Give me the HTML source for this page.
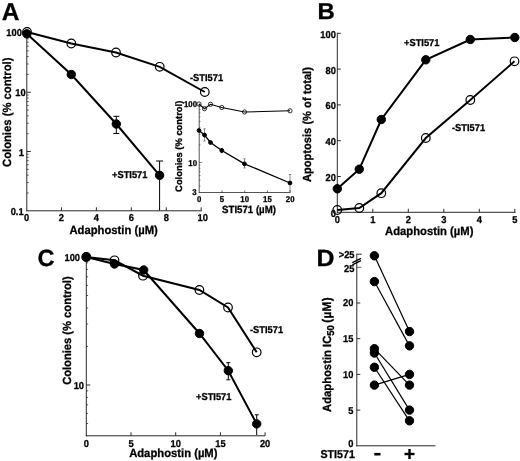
<!DOCTYPE html>
<html><head><meta charset="utf-8"><title>Figure</title>
<style>text{text-rendering:geometricPrecision}html,body{margin:0;padding:0;background:#fff}svg{display:block}</style></head>
<body><svg width="520" height="461" viewBox="0 0 520 461" font-family="Liberation Sans, Arial, Helvetica, sans-serif" font-weight="bold" fill="#000" stroke="#000">
<g stroke="#000">
<text stroke="#000" stroke-width="0.3" transform="translate(1.7,20) scale(1,1)" font-size="24.5" text-anchor="start" >A</text>
<line x1="26.80" y1="33.00" x2="26.80" y2="211.30" stroke-width="1" stroke="#2a2a2a" />
<line x1="26.30" y1="210.80" x2="201.80" y2="210.80" stroke-width="1" stroke="#2a2a2a" />
<line x1="26.80" y1="92.27" x2="30.80" y2="92.27" stroke-width="1" stroke="#2a2a2a" />
<line x1="26.80" y1="74.43" x2="28.60" y2="74.43" stroke-width="0.8" stroke="#2a2a2a" />
<line x1="26.80" y1="63.99" x2="28.60" y2="63.99" stroke-width="0.8" stroke="#2a2a2a" />
<line x1="26.80" y1="56.58" x2="28.60" y2="56.58" stroke-width="0.8" stroke="#2a2a2a" />
<line x1="26.80" y1="50.84" x2="28.60" y2="50.84" stroke-width="0.8" stroke="#2a2a2a" />
<line x1="26.80" y1="46.15" x2="28.60" y2="46.15" stroke-width="0.8" stroke="#2a2a2a" />
<line x1="26.80" y1="42.18" x2="28.60" y2="42.18" stroke-width="0.8" stroke="#2a2a2a" />
<line x1="26.80" y1="38.74" x2="28.60" y2="38.74" stroke-width="0.8" stroke="#2a2a2a" />
<line x1="26.80" y1="35.71" x2="28.60" y2="35.71" stroke-width="0.8" stroke="#2a2a2a" />
<line x1="26.80" y1="151.53" x2="30.80" y2="151.53" stroke-width="1" stroke="#2a2a2a" />
<line x1="26.80" y1="133.69" x2="28.60" y2="133.69" stroke-width="0.8" stroke="#2a2a2a" />
<line x1="26.80" y1="123.26" x2="28.60" y2="123.26" stroke-width="0.8" stroke="#2a2a2a" />
<line x1="26.80" y1="115.85" x2="28.60" y2="115.85" stroke-width="0.8" stroke="#2a2a2a" />
<line x1="26.80" y1="110.11" x2="28.60" y2="110.11" stroke-width="0.8" stroke="#2a2a2a" />
<line x1="26.80" y1="105.41" x2="28.60" y2="105.41" stroke-width="0.8" stroke="#2a2a2a" />
<line x1="26.80" y1="101.45" x2="28.60" y2="101.45" stroke-width="0.8" stroke="#2a2a2a" />
<line x1="26.80" y1="98.01" x2="28.60" y2="98.01" stroke-width="0.8" stroke="#2a2a2a" />
<line x1="26.80" y1="94.98" x2="28.60" y2="94.98" stroke-width="0.8" stroke="#2a2a2a" />
<line x1="26.80" y1="192.96" x2="28.60" y2="192.96" stroke-width="0.8" stroke="#2a2a2a" />
<line x1="26.80" y1="182.52" x2="28.60" y2="182.52" stroke-width="0.8" stroke="#2a2a2a" />
<line x1="26.80" y1="175.12" x2="28.60" y2="175.12" stroke-width="0.8" stroke="#2a2a2a" />
<line x1="26.80" y1="169.37" x2="28.60" y2="169.37" stroke-width="0.8" stroke="#2a2a2a" />
<line x1="26.80" y1="164.68" x2="28.60" y2="164.68" stroke-width="0.8" stroke="#2a2a2a" />
<line x1="26.80" y1="160.71" x2="28.60" y2="160.71" stroke-width="0.8" stroke="#2a2a2a" />
<line x1="26.80" y1="157.28" x2="28.60" y2="157.28" stroke-width="0.8" stroke="#2a2a2a" />
<line x1="26.80" y1="154.25" x2="28.60" y2="154.25" stroke-width="0.8" stroke="#2a2a2a" />
<line x1="61.44" y1="210.80" x2="61.44" y2="207.30" stroke-width="1" stroke="#2a2a2a" />
<text stroke="#000" stroke-width="0.3" transform="translate(61.44,220.7) scale(0.93,1)" font-size="10" text-anchor="middle" >2</text>
<line x1="96.38" y1="210.80" x2="96.38" y2="207.30" stroke-width="1" stroke="#2a2a2a" />
<text stroke="#000" stroke-width="0.3" transform="translate(96.38,220.7) scale(0.93,1)" font-size="10" text-anchor="middle" >4</text>
<line x1="131.32" y1="210.80" x2="131.32" y2="207.30" stroke-width="1" stroke="#2a2a2a" />
<text stroke="#000" stroke-width="0.3" transform="translate(131.32,220.7) scale(0.93,1)" font-size="10" text-anchor="middle" >6</text>
<line x1="166.26" y1="210.80" x2="166.26" y2="207.30" stroke-width="1" stroke="#2a2a2a" />
<text stroke="#000" stroke-width="0.3" transform="translate(166.26,220.7) scale(0.93,1)" font-size="10" text-anchor="middle" >8</text>
<line x1="201.20" y1="210.80" x2="201.20" y2="207.30" stroke-width="1" stroke="#2a2a2a" />
<text stroke="#000" stroke-width="0.3" transform="translate(202.7,220.7) scale(0.93,1)" font-size="10" text-anchor="middle" >10</text>
<text stroke="#000" stroke-width="0.3" transform="translate(26.5,220.7) scale(0.93,1)" font-size="10" text-anchor="middle" >0</text>
<text stroke="#000" stroke-width="0.3" transform="translate(21.8,36.3) scale(0.93,1)" font-size="10" text-anchor="end" >100</text>
<text stroke="#000" stroke-width="0.3" transform="translate(25.6,96.3) scale(0.93,1)" font-size="10" text-anchor="end" >10</text>
<text stroke="#000" stroke-width="0.3" transform="translate(24,156) scale(0.93,1)" font-size="10" text-anchor="end" >1</text>
<text stroke="#000" stroke-width="0.3" transform="translate(23.6,215.2) scale(0.93,1)" font-size="10" text-anchor="end" >0.1</text>
<text stroke="#000" stroke-width="0.3" transform="translate(11,112.3) rotate(-90) scale(0.95,1)" font-size="11.85" text-anchor="middle">Colonies (% control)</text>
<text stroke="#000" stroke-width="0.3" transform="translate(113.6,234) scale(0.95,1)" font-size="11.85" text-anchor="middle" >Adaphostin (µM)</text>
<polyline fill="none" stroke-width="2" points="27.00,32.00 71.30,43.50 116.00,52.50 159.70,66.80 204.80,92.00"/>
<circle cx="27.00" cy="32.00" r="4.3" fill="none" stroke-width="1.2"/>
<circle cx="71.30" cy="43.50" r="4.3" fill="none" stroke-width="1.2"/>
<circle cx="116.00" cy="52.50" r="4.3" fill="none" stroke-width="1.2"/>
<circle cx="159.70" cy="66.80" r="4.3" fill="none" stroke-width="1.2"/>
<circle cx="204.80" cy="92.00" r="4.3" fill="none" stroke-width="1.2"/>
<line x1="116.30" y1="116.30" x2="116.30" y2="133.50" stroke-width="1" />
<line x1="113.30" y1="116.30" x2="119.30" y2="116.30" stroke-width="1" />
<line x1="113.30" y1="133.50" x2="119.30" y2="133.50" stroke-width="1" />
<line x1="159.60" y1="161.00" x2="159.60" y2="210.50" stroke-width="1" />
<line x1="156.10" y1="161.00" x2="163.10" y2="161.00" stroke-width="1" />
<polyline fill="none" stroke-width="2" points="26.80,33.80 71.30,74.50 116.30,124.00 159.60,175.30"/>
<circle cx="26.80" cy="33.80" r="4.2" fill="#000" stroke-width="1"/>
<circle cx="71.30" cy="74.50" r="4.2" fill="#000" stroke-width="1"/>
<circle cx="116.30" cy="124.00" r="4.2" fill="#000" stroke-width="1"/>
<circle cx="159.60" cy="175.30" r="4.2" fill="#000" stroke-width="1"/>
<text stroke="#000" stroke-width="0.3" transform="translate(190,81) scale(0.93,1)" font-size="10" text-anchor="start" >-STI571</text>
<text stroke="#000" stroke-width="0.3" transform="translate(112,177.8) scale(0.93,1)" font-size="10" text-anchor="start" >+STI571</text>
<line x1="199.20" y1="103.80" x2="199.20" y2="192.90" stroke-width="0.8" stroke="#2a2a2a" />
<line x1="198.80" y1="192.50" x2="290.50" y2="192.50" stroke-width="0.8" stroke="#2a2a2a" />
<line x1="199.20" y1="106.49" x2="200.50" y2="106.49" stroke-width="0.6" stroke="#2a2a2a" />
<line x1="199.20" y1="109.49" x2="200.50" y2="109.49" stroke-width="0.6" stroke="#2a2a2a" />
<line x1="199.20" y1="112.90" x2="200.50" y2="112.90" stroke-width="0.6" stroke="#2a2a2a" />
<line x1="199.20" y1="116.83" x2="200.50" y2="116.83" stroke-width="0.6" stroke="#2a2a2a" />
<line x1="199.20" y1="121.49" x2="200.50" y2="121.49" stroke-width="0.6" stroke="#2a2a2a" />
<line x1="199.20" y1="127.18" x2="200.50" y2="127.18" stroke-width="0.6" stroke="#2a2a2a" />
<line x1="199.20" y1="134.52" x2="200.50" y2="134.52" stroke-width="0.6" stroke="#2a2a2a" />
<line x1="199.20" y1="144.86" x2="200.50" y2="144.86" stroke-width="0.6" stroke="#2a2a2a" />
<line x1="199.20" y1="162.55" x2="202.20" y2="162.55" stroke-width="0.6" stroke="#2a2a2a" />
<line x1="199.20" y1="165.24" x2="200.50" y2="165.24" stroke-width="0.6" stroke="#2a2a2a" />
<line x1="199.20" y1="168.24" x2="200.50" y2="168.24" stroke-width="0.6" stroke="#2a2a2a" />
<line x1="199.20" y1="171.65" x2="200.50" y2="171.65" stroke-width="0.6" stroke="#2a2a2a" />
<line x1="199.20" y1="175.58" x2="200.50" y2="175.58" stroke-width="0.6" stroke="#2a2a2a" />
<line x1="199.20" y1="180.24" x2="200.50" y2="180.24" stroke-width="0.6" stroke="#2a2a2a" />
<line x1="199.20" y1="185.93" x2="200.50" y2="185.93" stroke-width="0.6" stroke="#2a2a2a" />
<text stroke="#000" stroke-width="0.3" transform="translate(199.2,202) scale(0.93,1)" font-size="8.4" text-anchor="middle" >0</text>
<line x1="221.95" y1="192.50" x2="221.95" y2="190.50" stroke-width="0.7" stroke="#2a2a2a" />
<text stroke="#000" stroke-width="0.3" transform="translate(221.95,202) scale(0.93,1)" font-size="8.4" text-anchor="middle" >5</text>
<line x1="244.70" y1="192.50" x2="244.70" y2="190.50" stroke-width="0.7" stroke="#2a2a2a" />
<text stroke="#000" stroke-width="0.3" transform="translate(244.7,202) scale(0.93,1)" font-size="8.4" text-anchor="middle" >10</text>
<line x1="267.45" y1="192.50" x2="267.45" y2="190.50" stroke-width="0.7" stroke="#2a2a2a" />
<text stroke="#000" stroke-width="0.3" transform="translate(267.45,202) scale(0.93,1)" font-size="8.4" text-anchor="middle" >15</text>
<line x1="290.20" y1="192.50" x2="290.20" y2="190.50" stroke-width="0.7" stroke="#2a2a2a" />
<text stroke="#000" stroke-width="0.3" transform="translate(290.2,202) scale(0.93,1)" font-size="8.4" text-anchor="middle" >20</text>
<text stroke="#000" stroke-width="0.3" transform="translate(197,106.5) scale(0.93,1)" font-size="8.4" text-anchor="end" >100</text>
<text stroke="#000" stroke-width="0.3" transform="translate(197,165.6) scale(0.93,1)" font-size="8.4" text-anchor="end" >10</text>
<text stroke="#000" stroke-width="0.3" transform="translate(196.5,195.3) scale(0.93,1)" font-size="8.4" text-anchor="end" >3</text>
<text stroke="#000" stroke-width="0.3" transform="translate(181.6,146.3) rotate(-90) scale(1.0,1)" font-size="9.4" text-anchor="middle">Colonies (% control)</text>
<text stroke="#000" stroke-width="0.3" transform="translate(249,213.3) scale(0.93,1)" font-size="10.4" text-anchor="middle" >STI571 (µM)</text>
<polyline fill="none" stroke-width="1.1" points="199.00,104.00 204.50,108.70 210.50,104.30 221.80,107.50 244.50,112.00 290.00,110.80"/>
<circle cx="199.00" cy="104.00" r="2.1" fill="none" stroke-width="0.8"/>
<circle cx="204.50" cy="108.70" r="2.1" fill="none" stroke-width="0.8"/>
<circle cx="210.50" cy="104.30" r="2.1" fill="none" stroke-width="0.8"/>
<circle cx="221.80" cy="107.50" r="2.1" fill="none" stroke-width="0.8"/>
<circle cx="244.50" cy="112.00" r="2.1" fill="none" stroke-width="0.8"/>
<circle cx="290.00" cy="110.80" r="2.1" fill="none" stroke-width="0.8"/>
<g stroke="#444">
<line x1="204.50" y1="128.80" x2="204.50" y2="141.00" stroke-width="0.6" />
<line x1="203.30" y1="128.80" x2="205.70" y2="128.80" stroke-width="0.6" />
<line x1="203.30" y1="141.00" x2="205.70" y2="141.00" stroke-width="0.6" />
<line x1="221.80" y1="148.30" x2="221.80" y2="152.70" stroke-width="0.6" />
<line x1="220.60" y1="148.30" x2="223.00" y2="148.30" stroke-width="0.6" />
<line x1="220.60" y1="152.70" x2="223.00" y2="152.70" stroke-width="0.6" />
<line x1="244.50" y1="158.80" x2="244.50" y2="168.00" stroke-width="0.6" />
<line x1="243.30" y1="158.80" x2="245.70" y2="158.80" stroke-width="0.6" />
<line x1="243.30" y1="168.00" x2="245.70" y2="168.00" stroke-width="0.6" />
<line x1="290.00" y1="174.50" x2="290.00" y2="191.00" stroke-width="0.6" />
<line x1="288.80" y1="174.50" x2="291.20" y2="174.50" stroke-width="0.6" />
<line x1="288.80" y1="191.00" x2="291.20" y2="191.00" stroke-width="0.6" />
</g>
<polyline fill="none" stroke-width="1.3" points="199.00,130.50 204.50,135.00 210.50,142.50 221.80,150.50 244.50,163.80 290.00,183.00"/>
<circle cx="199.00" cy="130.50" r="1.9" fill="#000" stroke-width="1"/>
<circle cx="204.50" cy="135.00" r="1.9" fill="#000" stroke-width="1"/>
<circle cx="210.50" cy="142.50" r="1.9" fill="#000" stroke-width="1"/>
<circle cx="221.80" cy="150.50" r="1.9" fill="#000" stroke-width="1"/>
<circle cx="244.50" cy="163.80" r="1.9" fill="#000" stroke-width="1"/>
<circle cx="290.00" cy="183.00" r="1.9" fill="#000" stroke-width="1"/>
<text stroke="#000" stroke-width="0.3" transform="translate(317.5,19) scale(1.04,1)" font-size="23" text-anchor="start" >B</text>
<line x1="337.30" y1="32.80" x2="337.30" y2="212.80" stroke-width="1" stroke="#2a2a2a" />
<line x1="336.80" y1="212.30" x2="515.50" y2="212.30" stroke-width="1" stroke="#2a2a2a" />
<text stroke="#000" stroke-width="0.3" transform="translate(335.8,216.70000000000002) scale(0.93,1)" font-size="10" text-anchor="end" >0</text>
<line x1="337.30" y1="176.50" x2="340.80" y2="176.50" stroke-width="1" stroke="#2a2a2a" />
<text stroke="#000" stroke-width="0.3" transform="translate(335.8,180.9) scale(0.93,1)" font-size="10" text-anchor="end" >20</text>
<line x1="337.30" y1="140.70" x2="340.80" y2="140.70" stroke-width="1" stroke="#2a2a2a" />
<text stroke="#000" stroke-width="0.3" transform="translate(335.8,145.10000000000002) scale(0.93,1)" font-size="10" text-anchor="end" >40</text>
<line x1="337.30" y1="104.90" x2="340.80" y2="104.90" stroke-width="1" stroke="#2a2a2a" />
<text stroke="#000" stroke-width="0.3" transform="translate(335.8,109.30000000000001) scale(0.93,1)" font-size="10" text-anchor="end" >60</text>
<line x1="337.30" y1="69.10" x2="340.80" y2="69.10" stroke-width="1" stroke="#2a2a2a" />
<text stroke="#000" stroke-width="0.3" transform="translate(335.8,73.50000000000003) scale(0.93,1)" font-size="10" text-anchor="end" >80</text>
<line x1="337.30" y1="33.30" x2="340.80" y2="33.30" stroke-width="1" stroke="#2a2a2a" />
<text stroke="#000" stroke-width="0.3" transform="translate(335.8,37.70000000000001) scale(0.93,1)" font-size="10" text-anchor="end" >100</text>
<text stroke="#000" stroke-width="0.3" transform="translate(337.3,222.5) scale(0.93,1)" font-size="10" text-anchor="middle" >0</text>
<line x1="372.80" y1="212.30" x2="372.80" y2="208.80" stroke-width="1" stroke="#2a2a2a" />
<text stroke="#000" stroke-width="0.3" transform="translate(372.8,222.5) scale(0.93,1)" font-size="10" text-anchor="middle" >1</text>
<line x1="408.30" y1="212.30" x2="408.30" y2="208.80" stroke-width="1" stroke="#2a2a2a" />
<text stroke="#000" stroke-width="0.3" transform="translate(408.3,222.5) scale(0.93,1)" font-size="10" text-anchor="middle" >2</text>
<line x1="443.80" y1="212.30" x2="443.80" y2="208.80" stroke-width="1" stroke="#2a2a2a" />
<text stroke="#000" stroke-width="0.3" transform="translate(443.8,222.5) scale(0.93,1)" font-size="10" text-anchor="middle" >3</text>
<line x1="479.30" y1="212.30" x2="479.30" y2="208.80" stroke-width="1" stroke="#2a2a2a" />
<text stroke="#000" stroke-width="0.3" transform="translate(479.3,222.5) scale(0.93,1)" font-size="10" text-anchor="middle" >4</text>
<line x1="514.80" y1="212.30" x2="514.80" y2="208.80" stroke-width="1" stroke="#2a2a2a" />
<text stroke="#000" stroke-width="0.3" transform="translate(514.8,222.5) scale(0.93,1)" font-size="10" text-anchor="middle" >5</text>
<text stroke="#000" stroke-width="0.3" transform="translate(311.4,124.6) rotate(-90) scale(0.95,1)" font-size="11.73" text-anchor="middle">Apoptosis (% of total)</text>
<text stroke="#000" stroke-width="0.3" transform="translate(429.2,235.3) scale(0.95,1)" font-size="11.85" text-anchor="middle" >Adaphostin (µM)</text>
<polyline fill="none" stroke-width="2" points="337.30,210.00 359.30,208.00 381.30,193.20 425.80,138.00 470.30,100.00 514.50,61.30"/>
<circle cx="337.30" cy="210.00" r="4.3" fill="none" stroke-width="1.2"/>
<circle cx="359.30" cy="208.00" r="4.3" fill="none" stroke-width="1.2"/>
<circle cx="381.30" cy="193.20" r="4.3" fill="none" stroke-width="1.2"/>
<circle cx="425.80" cy="138.00" r="4.3" fill="none" stroke-width="1.2"/>
<circle cx="470.30" cy="100.00" r="4.3" fill="none" stroke-width="1.2"/>
<circle cx="514.50" cy="61.30" r="4.3" fill="none" stroke-width="1.2"/>
<polyline fill="none" stroke-width="2" points="337.30,188.80 359.30,169.20 381.30,119.50 425.80,59.80 470.30,39.50 514.80,37.50"/>
<circle cx="337.30" cy="188.80" r="4.2" fill="#000" stroke-width="1"/>
<circle cx="359.30" cy="169.20" r="4.2" fill="#000" stroke-width="1"/>
<circle cx="381.30" cy="119.50" r="4.2" fill="#000" stroke-width="1"/>
<circle cx="425.80" cy="59.80" r="4.2" fill="#000" stroke-width="1"/>
<circle cx="470.30" cy="39.50" r="4.2" fill="#000" stroke-width="1"/>
<circle cx="514.80" cy="37.50" r="4.2" fill="#000" stroke-width="1"/>
<text stroke="#000" stroke-width="0.3" transform="translate(404,46.3) scale(0.93,1)" font-size="10" text-anchor="start" >+STI571</text>
<text stroke="#000" stroke-width="0.3" transform="translate(452,130.8) scale(0.93,1)" font-size="10" text-anchor="start" >-STI571</text>
<text stroke="#000" stroke-width="0.3" transform="translate(37.5,266) scale(1,1)" font-size="23.5" text-anchor="start" >C</text>
<line x1="86.30" y1="257.00" x2="86.30" y2="436.30" stroke-width="1" stroke="#2a2a2a" />
<line x1="85.80" y1="435.80" x2="265.00" y2="435.80" stroke-width="1" stroke="#2a2a2a" />
<line x1="86.30" y1="262.86" x2="88.10" y2="262.86" stroke-width="0.8" stroke="#2a2a2a" />
<line x1="86.30" y1="269.40" x2="88.10" y2="269.40" stroke-width="0.8" stroke="#2a2a2a" />
<line x1="86.30" y1="276.83" x2="88.10" y2="276.83" stroke-width="0.8" stroke="#2a2a2a" />
<line x1="86.30" y1="285.40" x2="88.10" y2="285.40" stroke-width="0.8" stroke="#2a2a2a" />
<line x1="86.30" y1="295.53" x2="88.10" y2="295.53" stroke-width="0.8" stroke="#2a2a2a" />
<line x1="86.30" y1="307.94" x2="88.10" y2="307.94" stroke-width="0.8" stroke="#2a2a2a" />
<line x1="86.30" y1="323.93" x2="88.10" y2="323.93" stroke-width="0.8" stroke="#2a2a2a" />
<line x1="86.30" y1="346.47" x2="88.10" y2="346.47" stroke-width="0.8" stroke="#2a2a2a" />
<line x1="86.30" y1="385.00" x2="90.30" y2="385.00" stroke-width="1" stroke="#2a2a2a" />
<line x1="86.30" y1="390.86" x2="88.10" y2="390.86" stroke-width="0.8" stroke="#2a2a2a" />
<line x1="86.30" y1="397.40" x2="88.10" y2="397.40" stroke-width="0.8" stroke="#2a2a2a" />
<line x1="86.30" y1="404.83" x2="88.10" y2="404.83" stroke-width="0.8" stroke="#2a2a2a" />
<line x1="86.30" y1="413.40" x2="88.10" y2="413.40" stroke-width="0.8" stroke="#2a2a2a" />
<line x1="86.30" y1="423.53" x2="88.10" y2="423.53" stroke-width="0.8" stroke="#2a2a2a" />
<text stroke="#000" stroke-width="0.3" transform="translate(86.3,447) scale(0.93,1)" font-size="10" text-anchor="middle" >0</text>
<line x1="131.00" y1="435.80" x2="131.00" y2="432.30" stroke-width="1" stroke="#2a2a2a" />
<text stroke="#000" stroke-width="0.3" transform="translate(131.0,447) scale(0.93,1)" font-size="10" text-anchor="middle" >5</text>
<line x1="175.70" y1="435.80" x2="175.70" y2="432.30" stroke-width="1" stroke="#2a2a2a" />
<text stroke="#000" stroke-width="0.3" transform="translate(175.7,447) scale(0.93,1)" font-size="10" text-anchor="middle" >10</text>
<line x1="220.40" y1="435.80" x2="220.40" y2="432.30" stroke-width="1" stroke="#2a2a2a" />
<text stroke="#000" stroke-width="0.3" transform="translate(220.39999999999998,447) scale(0.93,1)" font-size="10" text-anchor="middle" >15</text>
<line x1="265.10" y1="435.80" x2="265.10" y2="432.30" stroke-width="1" stroke="#2a2a2a" />
<text stroke="#000" stroke-width="0.3" transform="translate(265.09999999999997,447) scale(0.93,1)" font-size="10" text-anchor="middle" >20</text>
<text stroke="#000" stroke-width="0.3" transform="translate(80,260.8) scale(0.93,1)" font-size="10" text-anchor="end" >100</text>
<text stroke="#000" stroke-width="0.3" transform="translate(84,388.7) scale(0.93,1)" font-size="10" text-anchor="end" >10</text>
<text stroke="#000" stroke-width="0.3" transform="translate(70.9,330.6) rotate(-90) scale(0.95,1)" font-size="11.75" text-anchor="middle">Colonies (% control)</text>
<text stroke="#000" stroke-width="0.3" transform="translate(173.3,457) scale(0.95,1)" font-size="11.85" text-anchor="middle" >Adaphostin (µM)</text>
<polyline fill="none" stroke-width="2" points="86.30,257.00 114.50,260.30 143.00,275.70 199.40,290.00 228.00,307.50 256.70,352.30"/>
<circle cx="86.30" cy="257.00" r="4.3" fill="none" stroke-width="1.2"/>
<circle cx="114.50" cy="260.30" r="4.3" fill="none" stroke-width="1.2"/>
<circle cx="143.00" cy="275.70" r="4.3" fill="none" stroke-width="1.2"/>
<circle cx="199.40" cy="290.00" r="4.3" fill="none" stroke-width="1.2"/>
<circle cx="228.00" cy="307.50" r="4.3" fill="none" stroke-width="1.2"/>
<circle cx="256.70" cy="352.30" r="4.3" fill="none" stroke-width="1.2"/>
<line x1="228.30" y1="362.70" x2="228.30" y2="379.80" stroke-width="1" />
<line x1="226.30" y1="362.70" x2="230.30" y2="362.70" stroke-width="1" />
<line x1="226.30" y1="379.80" x2="230.30" y2="379.80" stroke-width="1" />
<line x1="256.70" y1="414.80" x2="256.70" y2="435.00" stroke-width="1" />
<line x1="254.70" y1="414.80" x2="258.70" y2="414.80" stroke-width="1" />
<polyline fill="none" stroke-width="2" points="86.30,257.00 114.50,264.00 143.70,270.00 199.50,333.50 228.30,370.70 256.70,423.90"/>
<circle cx="86.30" cy="257.00" r="4.2" fill="#000" stroke-width="1"/>
<circle cx="114.50" cy="264.00" r="4.2" fill="#000" stroke-width="1"/>
<circle cx="143.70" cy="270.00" r="4.2" fill="#000" stroke-width="1"/>
<circle cx="199.50" cy="333.50" r="4.2" fill="#000" stroke-width="1"/>
<circle cx="228.30" cy="370.70" r="4.2" fill="#000" stroke-width="1"/>
<circle cx="256.70" cy="423.90" r="4.2" fill="#000" stroke-width="1"/>
<text stroke="#000" stroke-width="0.3" transform="translate(250,333.2) scale(0.93,1)" font-size="10" text-anchor="start" >-STI571</text>
<text stroke="#000" stroke-width="0.3" transform="translate(196,399.8) scale(0.93,1)" font-size="10" text-anchor="start" >+STI571</text>
<text stroke="#000" stroke-width="0.3" transform="translate(316.5,266) scale(1.06,1)" font-size="23.5" text-anchor="start" >D</text>
<line x1="356.80" y1="254.20" x2="356.80" y2="446.30" stroke-width="1" stroke="#2a2a2a" />
<line x1="356.30" y1="254.20" x2="361.80" y2="254.20" stroke-width="1" stroke="#2a2a2a" />
<line x1="352.30" y1="262.60" x2="361.00" y2="258.40" stroke-width="1.3" />
<line x1="352.30" y1="264.80" x2="361.00" y2="260.60" stroke-width="1.3" />
<line x1="356.30" y1="445.80" x2="435.50" y2="445.80" stroke-width="1" stroke="#2a2a2a" />
<text stroke="#000" stroke-width="0.3" transform="translate(353.3,447.40000000000003) scale(0.93,1)" font-size="10" text-anchor="end" >0</text>
<line x1="356.80" y1="410.10" x2="360.30" y2="410.10" stroke-width="1" stroke="#2a2a2a" />
<text stroke="#000" stroke-width="0.3" transform="translate(353.3,413.5) scale(0.93,1)" font-size="10" text-anchor="end" >5</text>
<line x1="356.80" y1="374.40" x2="360.30" y2="374.40" stroke-width="1" stroke="#2a2a2a" />
<text stroke="#000" stroke-width="0.3" transform="translate(353.3,377.8) scale(0.93,1)" font-size="10" text-anchor="end" >10</text>
<line x1="356.80" y1="338.70" x2="360.30" y2="338.70" stroke-width="1" stroke="#2a2a2a" />
<text stroke="#000" stroke-width="0.3" transform="translate(353.3,342.1) scale(0.93,1)" font-size="10" text-anchor="end" >15</text>
<line x1="356.80" y1="303.00" x2="360.30" y2="303.00" stroke-width="1" stroke="#2a2a2a" />
<text stroke="#000" stroke-width="0.3" transform="translate(353.3,306.4) scale(0.93,1)" font-size="10" text-anchor="end" >20</text>
<line x1="356.80" y1="267.30" x2="361.30" y2="267.30" stroke-width="1" stroke="#666" />
<text stroke="#000" stroke-width="0.3" transform="translate(354.3,271.90000000000003) scale(0.93,1)" font-size="10" text-anchor="end" >25</text>
<text stroke="#000" stroke-width="0.3" transform="translate(354.5,257.5) scale(0.93,1)" font-size="10" text-anchor="end" >&gt;25</text>
<line x1="374.40" y1="255.80" x2="409.50" y2="331.56" stroke-width="1.2" />
<line x1="374.40" y1="281.58" x2="409.50" y2="345.84" stroke-width="1.2" />
<line x1="374.40" y1="348.70" x2="409.50" y2="385.11" stroke-width="1.2" />
<line x1="374.40" y1="352.98" x2="409.50" y2="410.10" stroke-width="1.2" />
<line x1="374.40" y1="367.26" x2="409.50" y2="420.81" stroke-width="1.2" />
<line x1="374.40" y1="385.11" x2="409.50" y2="374.40" stroke-width="1.2" />
<circle cx="374.40" cy="255.80" r="4.2" fill="#000" stroke-width="1"/>
<circle cx="409.50" cy="331.56" r="4.2" fill="#000" stroke-width="1"/>
<circle cx="374.40" cy="281.58" r="4.2" fill="#000" stroke-width="1"/>
<circle cx="409.50" cy="345.84" r="4.2" fill="#000" stroke-width="1"/>
<circle cx="374.40" cy="348.70" r="4.2" fill="#000" stroke-width="1"/>
<circle cx="409.50" cy="385.11" r="4.2" fill="#000" stroke-width="1"/>
<circle cx="374.40" cy="352.98" r="4.2" fill="#000" stroke-width="1"/>
<circle cx="409.50" cy="410.10" r="4.2" fill="#000" stroke-width="1"/>
<circle cx="374.40" cy="367.26" r="4.2" fill="#000" stroke-width="1"/>
<circle cx="409.50" cy="420.81" r="4.2" fill="#000" stroke-width="1"/>
<circle cx="374.40" cy="385.11" r="4.2" fill="#000" stroke-width="1"/>
<circle cx="409.50" cy="374.40" r="4.2" fill="#000" stroke-width="1"/>
<text stroke="#000" stroke-width="0.3" transform="translate(330.8,412) rotate(-90) scale(0.95,1)" font-size="11.85" text-anchor="start">Adaphostin IC<tspan font-size="10" dy="3.4">50</tspan><tspan dy="-3.4" dx="-1.1" font-size="12.5" letter-spacing="0.25"> (µM)</tspan></text>
<text stroke="#000" stroke-width="0.3" transform="translate(320.5,458.3) scale(0.93,1)" font-size="11.45" text-anchor="start" >STI571</text>
<line x1="374.30" y1="454.20" x2="380.50" y2="454.20" stroke-width="2.6" />
<line x1="404.50" y1="454.00" x2="414.50" y2="454.00" stroke-width="2.4" />
<line x1="409.50" y1="449.00" x2="409.50" y2="459.00" stroke-width="2.4" />
</g></svg></body></html>
